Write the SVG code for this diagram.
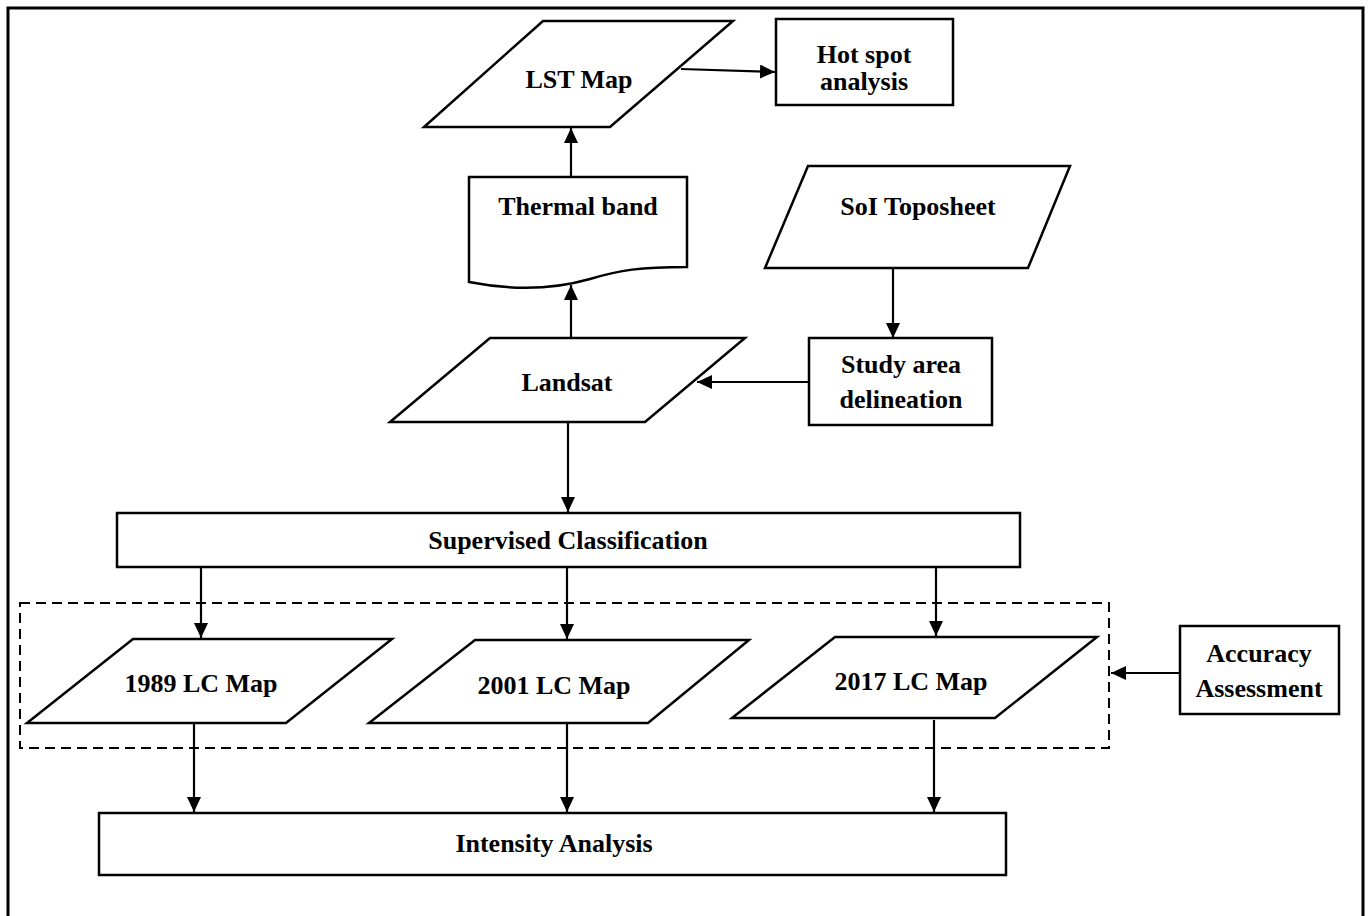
<svg xmlns="http://www.w3.org/2000/svg" width="1370" height="916" viewBox="0 0 1370 916">
<style>
.shape{fill:#fff;stroke:#000;stroke-width:2.5;stroke-linejoin:miter}
.lbl{font-family:"Liberation Serif","Times New Roman",serif;font-weight:bold;font-size:26px;fill:#000;text-anchor:middle}
.conn{stroke:#000;stroke-width:2.2;fill:none}
</style>
<defs>
<marker id="ah" markerUnits="userSpaceOnUse" markerWidth="16" markerHeight="14" refX="15" refY="7" orient="auto">
<path d="M0,0 L15,7 L0,14 z" fill="#000"/>
</marker>
</defs>
<rect width="1370" height="916" fill="#fff"/>
<path d="M8,920 V8 H1363 V920" fill="none" stroke="#000" stroke-width="3"/>

<g id="group-dashed">
<rect x="20" y="603" width="1089" height="145" fill="none" stroke="#000" stroke-width="2" stroke-dasharray="10 6"/>
</g>

<g id="node-lst">
<polygon class="shape" points="543,21 733,21 610,127 424,127"/>
<text class="lbl" x="579" y="88">LST Map</text>
</g>
<g id="node-hotspot">
<rect class="shape" x="776" y="19" width="177" height="86"/>
<text class="lbl" x="864" y="63">Hot spot</text>
<text class="lbl" x="864" y="90">analysis</text>
</g>
<g id="node-thermal">
<path class="shape" d="M469,177 H687 V267 C640,267 620,270 590,279 C555,289 515,291 469,282 Z"/>
<text class="lbl" x="578" y="215">Thermal band</text>
</g>
<g id="node-soi">
<polygon class="shape" points="808,166 1070,166 1028,268 765,268"/>
<text class="lbl" x="918" y="215">SoI Toposheet</text>
</g>
<g id="node-landsat">
<polygon class="shape" points="490,338 745,338 645,422 390,422"/>
<text class="lbl" x="567" y="391">Landsat</text>
</g>
<g id="node-study">
<rect class="shape" x="809" y="338" width="183" height="87"/>
<text class="lbl" x="901" y="373">Study area</text>
<text class="lbl" x="901" y="408">delineation</text>
</g>
<g id="node-supervised">
<rect class="shape" x="117" y="513" width="903" height="54"/>
<text class="lbl" x="568" y="549">Supervised Classification</text>
</g>
<g id="node-lc1989">
<polygon class="shape" points="133,639 392,639 286,723 27,723"/>
<text class="lbl" x="201" y="692">1989 LC Map</text>
</g>
<g id="node-lc2001">
<polygon class="shape" points="475,640 749,640 648,723 369,723"/>
<text class="lbl" x="554" y="694">2001 LC Map</text>
</g>
<g id="node-lc2017">
<polygon class="shape" points="835,637 1097,637 995,718 732,718"/>
<text class="lbl" x="911" y="690">2017 LC Map</text>
</g>
<g id="node-accuracy">
<rect class="shape" x="1180" y="626" width="159" height="88"/>
<text class="lbl" x="1259" y="662">Accuracy</text>
<text class="lbl" x="1259" y="697">Assessment</text>
</g>
<g id="node-intensity">
<rect class="shape" x="99" y="813" width="907" height="62"/>
<text class="lbl" x="554" y="852">Intensity Analysis</text>
</g>

<g id="connectors">
<path class="conn" d="M571,177 L571,128" marker-end="url(#ah)"/>
<path class="conn" d="M571,338 L571,285" marker-end="url(#ah)"/>
<path class="conn" d="M681,69 L775,72" marker-end="url(#ah)"/>
<path class="conn" d="M893,268 L893,338" marker-end="url(#ah)"/>
<path class="conn" d="M809,382 L697,382" marker-end="url(#ah)"/>
<path class="conn" d="M568,422 L568,512" marker-end="url(#ah)"/>
<path class="conn" d="M201,567 L201,638" marker-end="url(#ah)"/>
<path class="conn" d="M567,567 L567,639" marker-end="url(#ah)"/>
<path class="conn" d="M936,567 L936,636" marker-end="url(#ah)"/>
<path class="conn" d="M194,723 L194,812" marker-end="url(#ah)"/>
<path class="conn" d="M567,723 L567,812" marker-end="url(#ah)"/>
<path class="conn" d="M934,720 L934,812" marker-end="url(#ah)"/>
<path class="conn" d="M1180,673 L1111,673" marker-end="url(#ah)"/>
</g>
</svg>
